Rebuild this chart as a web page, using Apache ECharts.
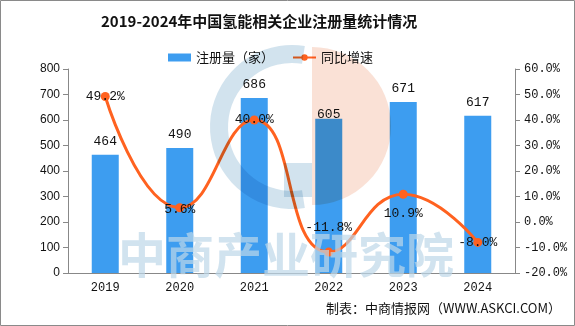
<!DOCTYPE html>
<html><head><meta charset="utf-8">
<script src="https://cdn.jsdelivr.net/npm/echarts@6/dist/echarts.min.js"></script>
<style>html,body{margin:0;padding:0;background:#fff}#c{width:575px;height:326px}</style>
</head><body><div id="c"></div>
<script>
var years = ['2019','2020','2021','2022','2023','2024'];
var registrations = [464, 490, 686, 605, 671, 617];
var growth = [49.2, 5.6, 40.0, -11.8, 10.9, -8.0];
var growthLabelPos = ['inside','inside','inside','top','bottom','inside'];
var leftTicks = {min:0, max:800, interval:100};
var rightTicks = {min:-20, max:60, interval:10};

var mono = '"Liberation Mono", "DejaVu Sans Mono", monospace';
var cjk = '"Noto Sans CJK SC", sans-serif';
var chart = echarts.init(document.getElementById('c'), null, {renderer:'canvas'});
chart.setOption({
  animation:false,
  backgroundColor:'#fff',
  title:{text:'2019-2024年中国氢能相关企业注册量统计情况', left:96, top:9,
    textStyle:{fontFamily:cjk, fontSize:15, fontWeight:'bold', color:'#111'}},
  legend:{left:163, top:46, itemGap:18, itemWidth:23, itemHeight:8,
    textStyle:{fontFamily:cjk, fontSize:13, color:'#111'},
    data:[{name:'注册量（家）', icon:'rect'}, {name:'同比增速'}]},
  grid:{left:68, right:60, top:69, bottom:53},
  xAxis:{type:'category', data:years,
    axisLine:{lineStyle:{color:'#888'}}, axisTick:{lineStyle:{color:'#888'}, length:5},
    axisLabel:{fontFamily:mono, fontSize:12, color:'#111', margin:9}},
  yAxis:[
    {type:'value', min:leftTicks.min, max:leftTicks.max, interval:leftTicks.interval,
     axisLine:{show:true, lineStyle:{color:'#888'}}, axisTick:{show:true, lineStyle:{color:'#888'}},
     splitLine:{show:false}, axisLabel:{fontFamily:'"Liberation Sans", sans-serif', fontSize:12, color:'#111', margin:8}},
    {type:'value', min:rightTicks.min, max:rightTicks.max, interval:rightTicks.interval,
     axisLine:{show:true, lineStyle:{color:'#888'}}, axisTick:{show:true, lineStyle:{color:'#888'}},
     splitLine:{show:false}, axisLabel:{fontFamily:mono, fontSize:12, color:'#111', margin:9,
       formatter:function(v){return v.toFixed(1)+'%';}}}
  ],
  series:[
    {name:'注册量（家）', type:'bar', barWidth:27, z:2,
     itemStyle:{color:'#3d9df0'},
     data:registrations.map(function(v,i){
       var d={value:v};
       if(i===3) d.label={offset:[0,9]};
       return d;}),
     label:{show:true, position:'top', distance:7, fontFamily:mono, fontSize:13, color:'#111'}},
    {name:'同比增速', type:'line', yAxisIndex:1, smooth:0.5, z:3,
     symbol:'circle', symbolSize:9,
     lineStyle:{color:'#ff6220', width:3}, itemStyle:{color:'#ff6220'},
     data:growth.map(function(v,i){
       var p=growthLabelPos[i];
       var lab={position:p};
       if(p==='top') lab.distance=14;
       if(p==='bottom') lab.distance=8;
       if(i===1) lab.offset=[0,2];
       return {value:v, label:lab};}),
     label:{show:true, fontFamily:mono, fontSize:13, color:'#111',
       formatter:function(p){return p.value.toFixed(1)+'%';}}}
  ],
  graphic:[
    {type:'sector', z:10, silent:true,
     shape:{cx:292, cy:127, r:82, r0:64, startAngle:Math.PI*0.45, endAngle:Math.PI*1.55},
     style:{fill:'#d2e3ee', blend:'multiply'}},
    {type:'rect', z:10, silent:true,
     shape:{x:284, y:163, width:28, height:34},
     style:{fill:'#d2e3ee', blend:'multiply'}},
    {type:'sector', z:10, silent:true,
     shape:{cx:312, cy:126, r:79, r0:0, startAngle:-Math.PI/2, endAngle:Math.PI/2},
     style:{fill:'#fae1d6', blend:'multiply'}},
    {type:'text', z:11, silent:true, left:118, top:231,
     style:{text:'中商产业研究院', font:'bold 48px "Noto Sans CJK SC"', fill:'rgba(190,215,232,0.7)'}},
    {type:'text', z:11, right:14, top:302,
     style:{text:'制表：中商情报网（WWW.ASKCI.COM）', font:'13px "Noto Sans CJK SC"', fill:'#111'}},
    {type:'rect', z:20, silent:true,
     shape:{x:0.5, y:0.5, width:574, height:325},
     style:{fill:null, stroke:'#8a8a8a', lineWidth:1}}
  ]
});
</script></body></html>
